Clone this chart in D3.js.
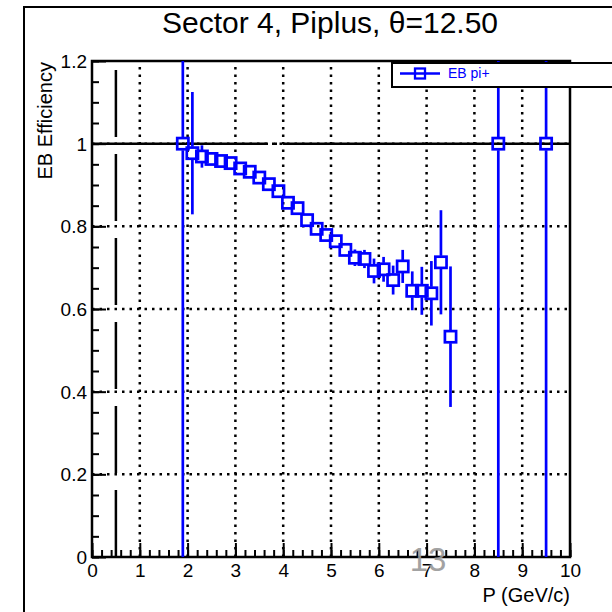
<!DOCTYPE html>
<html>
<head>
<meta charset="utf-8">
<script src="https://cdn.jsdelivr.net/npm/d3@7"></script>
<style>
  body { margin: 0; background: #fff; }
  svg { display: block; font-family: "Liberation Sans", Arial, sans-serif; }
</style>
</head>
<body>
<svg id="chart" width="612" height="612"></svg>
<script>
// momentum bin centres (GeV/c)
const momentum = [1.9, 2.1, 2.3, 2.5, 2.7, 2.9, 3.1, 3.3, 3.5, 3.7, 3.9, 4.1, 4.3, 4.5, 4.7,
                  4.9, 5.1, 5.3, 5.5, 5.7, 5.9, 6.1, 6.3, 6.5, 6.7, 6.9, 7.1, 7.3, 7.5, 8.5, 9.5];
// EB efficiency per bin
const efficiency = [1.0, 0.977, 0.969, 0.963, 0.958, 0.953, 0.940, 0.932, 0.918, 0.902, 0.885, 0.857, 0.844, 0.815, 0.794,
                    0.779, 0.764, 0.743, 0.724, 0.721, 0.692, 0.696, 0.670, 0.703, 0.644, 0.644, 0.638, 0.713, 0.533, 1.0, 1.0];
// error on efficiency
const effError = [1.5, 0.148, 0.027, 0.015, 0.012, 0.010, 0.010, 0.010, 0.010, 0.010, 0.010, 0.010, 0.012, 0.012, 0.012,
                  0.014, 0.015, 0.016, 0.020, 0.022, 0.030, 0.030, 0.035, 0.040, 0.047, 0.058, 0.078, 0.126, 0.170, 1.5, 1.5];

const xTicks = [0, 1, 2, 3, 4, 5, 6, 7, 8, 9, 10];
const yTicks = [0, 0.2, 0.4, 0.6, 0.8, 1, 1.2];
const xMinor = d3.range(0, 10.001, 0.2);
const yMinor = d3.range(0, 1.2001, 0.05);
const xGrid = [1, 2, 3, 4, 5, 6, 7, 8, 9];
const yGrid = [0.2, 0.4, 0.6, 0.8, 1];

const titleText = "Sector 4, Piplus, \u03b8=12.50";
const legendLabel = "EB pi+";
const blue = "#0000ff";

const svg = d3.select("#chart");
const pLeft = 92, pRight = 570, pTop = 61, pBottom = 557;

const x = d3.scaleLinear().domain([0, 10]).range([pLeft, pRight]);
const y = d3.scaleLinear().domain([0, 1.2]).range([pBottom, pTop]);

// canvas frame
svg.append("path")
    .attr("d", `M24,640 V7 H640`)
    .attr("fill", "none").attr("stroke", "#000").attr("stroke-width", 2);

// title
svg.append("text")
    .attr("x", 330).attr("y", 33)
    .attr("text-anchor", "middle")
    .attr("font-size", 30)
    .text(titleText);

const plot = svg.append("g");

// dotted grid
plot.selectAll(".gx").data(xGrid).enter().append("line")
    .attr("x1", d => x(d)).attr("x2", d => x(d))
    .attr("y1", pBottom).attr("y2", pTop)
    .attr("stroke", "#000").attr("stroke-width", 2.5)
    .attr("stroke-dasharray", "2.5,5");
plot.selectAll(".gy").data(yGrid).enter().append("line")
    .attr("x1", pLeft).attr("x2", pRight)
    .attr("y1", d => y(d)).attr("y2", d => y(d))
    .attr("stroke", "#000").attr("stroke-width", 2.5)
    .attr("stroke-dasharray", "2.5,5");

// reference lines
plot.append("line")
    .attr("x1", x(0.5)).attr("x2", x(0.5))
    .attr("y1", y(0)).attr("y2", y(1.2))
    .attr("stroke", "#000").attr("stroke-width", 2.5)
    .attr("stroke-dasharray", "67,17");
plot.append("line")
    .attr("x1", x(0)).attr("x2", x(10))
    .attr("y1", y(1)).attr("y2", y(1))
    .attr("stroke", "#000").attr("stroke-width", 2.5)
    .attr("stroke-dasharray", "176,6,3,6,400");

// axes, ticks pointing inward
const yAxis = plot.append("g").attr("transform", `translate(${pLeft},0)`)
    .call(d3.axisLeft(y).tickValues(yTicks).tickSize(-14).tickPadding(5)
        .tickFormat(d => d3.format("~g")(d)));
plot.append("g").attr("transform", `translate(${pLeft},0)`)
    .call(d3.axisLeft(y).tickValues(yMinor).tickSize(-7).tickFormat(""));
const xAxis = plot.append("g").attr("transform", `translate(0,${pBottom})`)
    .call(d3.axisBottom(x).tickValues(xTicks).tickSize(-14).tickPadding(7));
plot.append("g").attr("transform", `translate(0,${pBottom})`)
    .call(d3.axisBottom(x).tickValues(xMinor).tickSize(-7).tickFormat(""));

plot.selectAll(".domain").remove();
plot.selectAll(".tick line").attr("stroke", "#000").attr("stroke-width", 2);
plot.selectAll(".tick text").attr("font-size", 19).attr("fill", "#000")
    .attr("font-family", "Liberation Sans, Arial, sans-serif");
yAxis.selectAll(".tick text").attr("dy", "0.35em");

// frame
plot.append("rect")
    .attr("x", pLeft).attr("y", pTop)
    .attr("width", pRight - pLeft).attr("height", pBottom - pTop)
    .attr("fill", "none").attr("stroke", "#000").attr("stroke-width", 2.5);

// axis titles
svg.append("text")
    .attr("x", pRight).attr("y", 602)
    .attr("text-anchor", "end").attr("font-size", 20)
    .text("P (GeV/c)");
svg.append("text")
    .attr("transform", `translate(52,${pTop + 1}) rotate(-90)`)
    .attr("text-anchor", "end").attr("font-size", 20)
    .text("EB Efficiency");

// data
const pts = momentum.map((m, i) => ({ m, v: efficiency[i], e: effError[i] }));
const half = 6.5;
const clipY = v => Math.max(pTop, Math.min(pBottom, v));

const data = plot.append("g");
pts.forEach(p => {
    const cx = x(p.m), cy = y(p.v);
    const yHi = clipY(y(p.v + p.e)), yLo = clipY(y(p.v - p.e));
    if (yHi < cy - half)
        data.append("line").attr("x1", cx).attr("x2", cx).attr("y1", yHi).attr("y2", cy - half)
            .attr("stroke", blue).attr("stroke-width", 2.7);
    if (yLo > cy + half)
        data.append("line").attr("x1", cx).attr("x2", cx).attr("y1", cy + half).attr("y2", yLo)
            .attr("stroke", blue).attr("stroke-width", 2.7);
});
data.selectAll("rect").data(pts).enter().append("rect")
    .attr("x", d => x(d.m) - 5.6).attr("y", d => y(d.v) - 5.6)
    .attr("width", 11.2).attr("height", 11.2)
    .attr("fill", "none").attr("stroke", blue).attr("stroke-width", 2.7);

// legend
const lg = svg.append("g");
lg.append("rect")
    .attr("x", 392).attr("y", 63).attr("width", 260).attr("height", 24)
    .attr("fill", "#fff").attr("stroke", "#000").attr("stroke-width", 2);
lg.append("line").attr("x1", 400).attr("x2", 440).attr("y1", 73.5).attr("y2", 73.5)
    .attr("stroke", blue).attr("stroke-width", 2.5);
lg.append("rect").attr("x", 415).attr("y", 68.5).attr("width", 10).attr("height", 10)
    .attr("fill", "none").attr("stroke", blue).attr("stroke-width", 2.3);
lg.append("text").attr("x", 448).attr("y", 78)
    .attr("font-size", 14).attr("fill", blue)
    .text(legendLabel);

// page number
svg.append("text")
    .attr("x", 428).attr("y", 571)
    .attr("text-anchor", "middle")
    .attr("font-size", 33).attr("fill", "#999").attr("opacity", 0.9)
    .text("13");
</script>
</body>
</html>
